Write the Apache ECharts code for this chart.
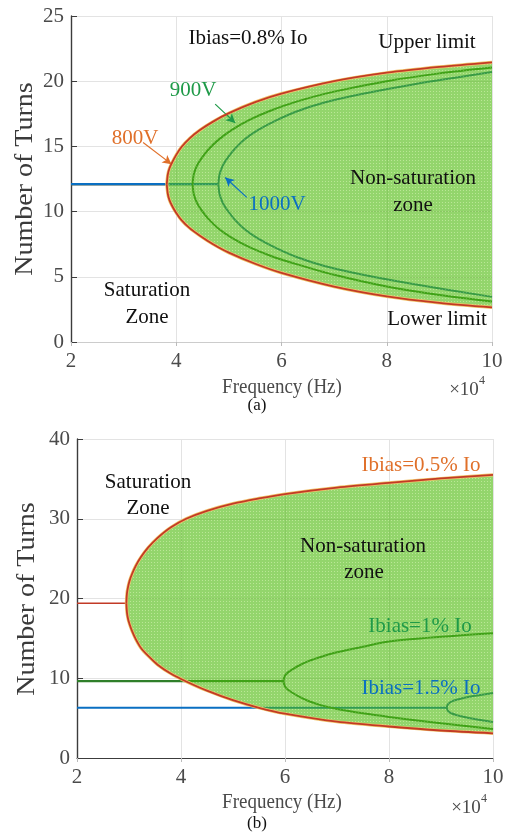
<!DOCTYPE html>
<html>
<head>
<meta charset="utf-8">
<script src="https://cdn.jsdelivr.net/npm/echarts@6/dist/echarts.min.js"></script>
<style>
  html, body { margin: 0; padding: 0; background: #ffffff; }
  #chart { width: 510px; height: 835px; }
</style>
</head>
<body>
<div id="chart"></div>
<script>
// ---------- (a) Ibias = 0.8% Io, three DC-link voltages ----------
const flatStartA = 2;
const flatTurnsA = 12.1;

const f800 = [3.82, 3.84, 3.87, 3.92, 4.0, 4.1, 4.25, 4.45, 4.7, 5.0, 5.5, 6, 7, 8, 9, 10];
const upper800 = [12.1, 12.85, 13.3, 13.75, 14.35, 14.95, 15.6, 16.25, 16.9, 17.55, 18.4, 19.05, 20.0, 20.65, 21.1, 21.45];
const lower800 = [12.1, 11.35, 10.9, 10.45, 9.9, 9.35, 8.75, 8.15, 7.5, 6.85, 6.0, 5.3, 4.25, 3.5, 3.0, 2.65];

const f900 = [4.31, 4.33, 4.36, 4.41, 4.5, 4.62, 4.8, 5.05, 5.4, 5.8, 6.3, 7, 8, 9, 10];
const upper900 = [12.1, 12.8, 13.2, 13.65, 14.2, 14.8, 15.5, 16.25, 17.05, 17.75, 18.45, 19.2, 20.0, 20.6, 21.05];
const lower900 = [12.1, 11.4, 11.0, 10.55, 10.0, 9.4, 8.7, 8.0, 7.25, 6.6, 5.95, 5.15, 4.25, 3.6, 3.1];

const f1000 = [4.8, 4.82, 4.85, 4.9, 5.0, 5.12, 5.3, 5.55, 5.9, 6.3, 6.8, 7.5, 8.5, 10];
const upper1000 = [12.1, 12.8, 13.2, 13.65, 14.25, 14.85, 15.55, 16.25, 17.0, 17.7, 18.35, 19.0, 19.75, 20.7];
const lower1000 = [12.1, 11.4, 11.0, 10.55, 9.95, 9.35, 8.65, 7.95, 7.2, 6.5, 5.85, 5.2, 4.45, 3.46];

// ---------- (b) three bias currents ----------
const flatStartB = 2;

const f05 = [2.95, 2.96, 2.98, 3.01, 3.06, 3.13, 3.23, 3.37, 3.55, 3.8, 4.1, 4.5, 5, 5.5, 6, 7, 8, 9, 10];
const upper05 = [19.4, 20.6, 21.4, 22.2, 23.1, 24.1, 25.2, 26.4, 27.6, 28.9, 30.0, 31.0, 31.9, 32.55, 33.1, 33.9, 34.5, 35.05, 35.5];
const lower05 = [19.4, 18.3, 17.5, 16.8, 15.9, 14.9, 13.8, 12.8, 11.7, 10.6, 9.6, 8.45, 7.25, 6.3, 5.55, 4.55, 3.95, 3.45, 3.1];

const f1 = [5.97, 5.99, 6.02, 6.07, 6.15, 6.27, 6.45, 6.7, 7.0, 7.5, 8, 9, 10];
const upper1 = [9.65, 10.2, 10.5, 10.8, 11.15, 11.6, 12.15, 12.7, 13.25, 13.95, 14.6, 15.2, 15.65];
const lower1 = [9.65, 9.1, 8.8, 8.5, 8.15, 7.7, 7.15, 6.6, 6.15, 5.6, 5.15, 4.35, 3.65];

const f15 = [9.11, 9.13, 9.16, 9.21, 9.3, 9.45, 9.65, 9.85, 10];
const upper15 = [6.3, 6.7, 6.9, 7.1, 7.3, 7.55, 7.8, 8.0, 8.15];
const lower15 = [6.3, 5.95, 5.75, 5.58, 5.38, 5.15, 4.9, 4.68, 4.5];

// axis ranges [min, max, step]
const xRange = [2, 10, 2];
const yRangeA = [0, 25, 5];
const yRangeB = [0, 40, 10];

// ---------- styling ----------
const SERIF = '"Liberation Serif", "Times New Roman", serif';
const C_RED = '#c23a26';
const C_HALO = '#f0c36a';
const C_ORANGE = '#e0702a';
const C_GREEN_TXT = '#1f9a48';
const C_BLUE = '#0a6fc2';
const C_GREEN_LINE = '#2f7f2a';
const C_TEAL_LINE = '#1c6f9c';

// fine hatch texture for the non-saturation band
function makeHatch() {
  const c = document.createElement('canvas');
  c.width = 3; c.height = 3;
  const g = c.getContext('2d');
  g.fillStyle = 'rgb(76,185,10)';
  g.fillRect(0, 0, 3, 3);
  g.fillStyle = 'rgb(140,215,80)';
  g.fillRect(1, 1, 1, 1);
  return c;
}
const FILL = { image: makeHatch(), repeat: 'repeat' };

const pairs = (fs, ys) => fs.map((f, i) => [f, ys[i]]);

function line(idx, data, color, width, z, extra) {
  return Object.assign({
    type: 'line', xAxisIndex: idx, yAxisIndex: idx, data,
    showSymbol: false, symbol: 'none', silent: true, z,
    smooth: 0.3,
    lineStyle: { color, width }, animation: false
  }, extra || {});
}

function flat(idx, x0, x1, y, color, width, z) {
  return line(idx, [[x0, y], [x1, y]], color, width, z, { smooth: false });
}

// translucent band between an upper and a lower branch, placed through the axis scales
function band(idx, fs, up, lo) {
  return {
    type: 'custom', xAxisIndex: idx, yAxisIndex: idx, z: 3, silent: true,
    clip: true, animation: false,
    data: [[fs[0], up[0]]],
    renderItem(params, api) {
      const pts = [];
      for (let i = 0; i < fs.length; i++) pts.push(api.coord([fs[i], up[i]]));
      for (let i = fs.length - 1; i >= 0; i--) pts.push(api.coord([fs[i], lo[i]]));
      return { type: 'polygon', shape: { points: pts },
               style: { fill: FILL, opacity: 0.6 } };
    }
  };
}

function arrow(idx, from, to, color) {
  return {
    type: 'line', xAxisIndex: idx, yAxisIndex: idx, data: [], silent: true, z: 6,
    markLine: {
      silent: true, animation: false, symbol: ['none', 'arrow'], symbolSize: [7, 9],
      lineStyle: { color, width: 1.2, type: 'solid' }, label: { show: false },
      data: [[{ coord: from }, { coord: to }]]
    }
  };
}

function xAxis(idx, lineColor) {
  return {
    type: 'value', gridIndex: idx, min: xRange[0], max: xRange[1], interval: xRange[2],
    axisLine: { show: true, onZero: false, lineStyle: { color: lineColor, width: 1.2 } },
    axisTick: { show: true, inside: false, length: 4, lineStyle: { color: '#bbbbbb' } },
    axisLabel: { color: '#4a4a4a', fontFamily: SERIF, fontSize: 21, margin: 9 },
    splitLine: { show: true, lineStyle: { color: '#e3e3e3', width: 1 } }
  };
}
function yAxis(idx, r) {
  return {
    type: 'value', gridIndex: idx, min: r[0], max: r[1], interval: r[2],
    axisLine: { show: true, lineStyle: { color: '#3c3c3c', width: 1.4 } },
    axisTick: { show: true, inside: true, length: 6, lineStyle: { color: '#3c3c3c' } },
    axisLabel: { color: '#4a4a4a', fontFamily: SERIF, fontSize: 21, margin: 7 },
    splitLine: { show: true, lineStyle: { color: '#e3e3e3', width: 1 } }
  };
}

function txt(text, x, y, color, size, extra) {
  return Object.assign({
    type: 'text', x, y, z: 100, silent: true,
    style: { text, fill: color, font: size + 'px ' + SERIF,
             align: 'center', verticalAlign: 'middle',
             textAlign: 'center', textVerticalAlign: 'middle' }
  }, extra || {});
}

// boundary curve: soft yellow halo under a red stroke, above the band
function boundary(idx, fs, ys) {
  return [
    line(idx, pairs(fs, ys), C_HALO, 3.2, 4),
    line(idx, pairs(fs, ys), C_RED, 1.8, 5)
  ];
}

const series = [
  // (a) inner curves sit beneath the translucent band
  flat(0, flatStartA, f800[0], flatTurnsA, C_RED, 2, 1),
  flat(0, flatStartA, f900[0], flatTurnsA, C_GREEN_LINE, 2, 1),
  flat(0, flatStartA, f1000[0], flatTurnsA, C_BLUE, 2.2, 2),
  line(0, pairs(f900, upper900), C_GREEN_LINE, 2, 2),
  line(0, pairs(f900, lower900), C_GREEN_LINE, 2, 2),
  line(0, pairs(f1000, upper1000), C_TEAL_LINE, 2, 2),
  line(0, pairs(f1000, lower1000), C_TEAL_LINE, 2, 2),
  band(0, f800, upper800, lower800),
  ...boundary(0, f800, upper800),
  ...boundary(0, f800, lower800),
  arrow(0, [3.37, 15.3], [3.91, 13.64], C_ORANGE),
  arrow(0, [4.74, 18.24], [5.12, 16.8], C_GREEN_TXT),
  arrow(0, [5.34, 11.09], [4.93, 12.62], C_BLUE),

  // (b)
  flat(1, flatStartB, f05[0], upper05[0], C_RED, 1.4, 1),
  flat(1, flatStartB, f1[0], upper1[0], C_GREEN_LINE, 2.2, 2),
  flat(1, flatStartB, f15[0], upper15[0], C_BLUE, 2.2, 2),
  line(1, pairs(f1, upper1), C_GREEN_LINE, 2, 2),
  line(1, pairs(f1, lower1), C_GREEN_LINE, 2, 2),
  line(1, pairs(f15, upper15), C_TEAL_LINE, 2, 2),
  line(1, pairs(f15, lower15), C_TEAL_LINE, 2, 2),
  band(1, f05, upper05, lower05),
  ...boundary(1, f05, upper05),
  ...boundary(1, f05, lower05)
];

const graphic = [
  // axis titles
  txt('Number of Turns', 25, 179, '#3a3a3a', 25, { rotation: Math.PI / 2, scaleX: 1.12 }),
  txt('Number of Turns', 27, 599, '#3a3a3a', 25, { rotation: Math.PI / 2, scaleX: 1.12 }),
  txt('Frequency (Hz)', 282, 387, '#4a4a4a', 19, { scaleY: 1.15 }),
  txt('Frequency (Hz)', 282, 802, '#4a4a4a', 19, { scaleY: 1.15 }),
  txt('\u00d710', 464, 390, '#4a4a4a', 19),
  txt('4', 482, 381, '#4a4a4a', 12),
  txt('\u00d710', 466, 808, '#4a4a4a', 19),
  txt('4', 484, 799, '#4a4a4a', 12),
  txt('(a)', 257, 406, '#111111', 17),
  txt('(b)', 257, 824, '#111111', 17),

  // (a) annotations
  txt('Ibias=0.8% Io', 248, 38, '#111111', 21),
  txt('Upper limit', 427, 42, '#111111', 21),
  txt('900V', 193, 90, C_GREEN_TXT, 21),
  txt('800V', 135, 138, C_ORANGE, 21),
  txt('1000V', 277, 204, C_BLUE, 21),
  txt('Non-saturation', 413, 178, '#111111', 21),
  txt('zone', 413, 205, '#111111', 21),
  txt('Saturation', 147, 290, '#111111', 21),
  txt('Zone', 147, 317, '#111111', 21),
  txt('Lower limit', 437, 319, '#111111', 21),

  // (b) annotations
  txt('Saturation', 148, 482, '#111111', 21),
  txt('Zone', 148, 508, '#111111', 21),
  txt('Ibias=0.5% Io', 421, 465, C_ORANGE, 21),
  txt('Non-saturation', 363, 546, '#111111', 21),
  txt('zone', 364, 572, '#111111', 21),
  txt('Ibias=1% Io', 420, 626, C_GREEN_TXT, 21),
  txt('Ibias=1.5% Io', 421, 688, C_BLUE, 21)
];

const chart = echarts.init(document.getElementById('chart'), null, { renderer: 'canvas' });
chart.setOption({
  animation: false,
  backgroundColor: '#ffffff',
  grid: [
    { left: 71, top: 16, width: 421, height: 326 },
    { left: 77, top: 439, width: 416, height: 319 }
  ],
  xAxis: [xAxis(0, '#cccccc'), xAxis(1, '#3c3c3c')],
  yAxis: [yAxis(0, yRangeA), yAxis(1, yRangeB)],
  series,
  graphic
});
</script>
</body>
</html>
